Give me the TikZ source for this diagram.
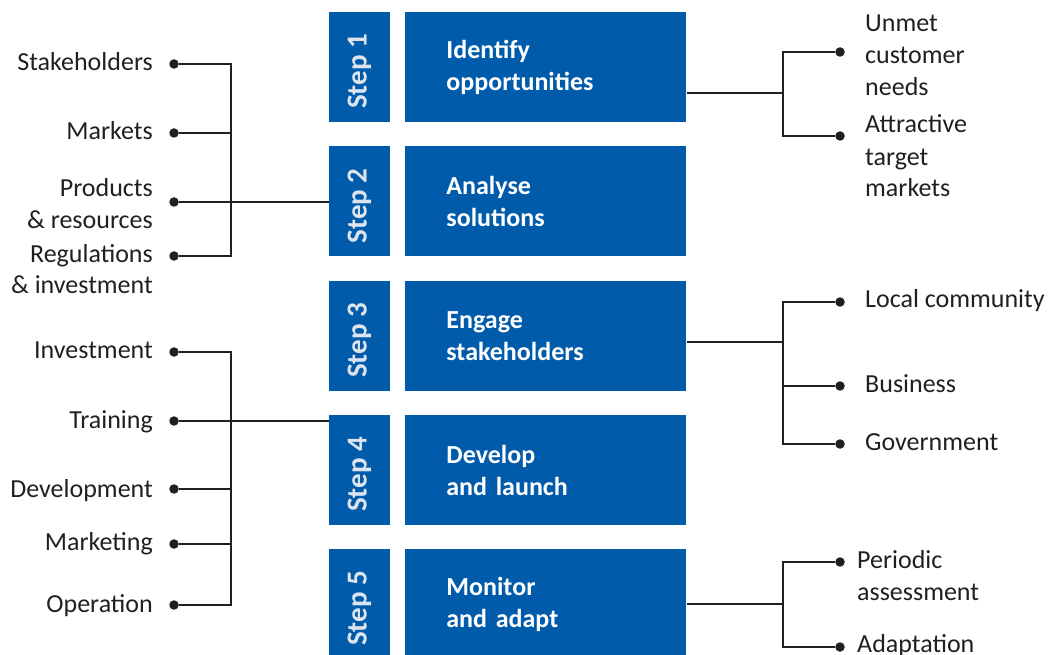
\documentclass[tikz,border=0pt]{standalone}
\usepackage{fontspec}
\setmainfont{Carlito}
\usetikzlibrary{positioning}

\definecolor{stepblue}{RGB}{0,91,170}
\definecolor{steptext}{RGB}{222,228,238}
\definecolor{ink}{RGB}{35,31,32}

\tikzset{
  stepbox/.style={fill=stepblue,minimum width=61pt,minimum height=110pt,
    inner sep=0pt,text=steptext,font=\fontsize{29}{34}\selectfont\bfseries},
  mainbox/.style={fill=stepblue,minimum height=110pt,text width=199pt,
    inner xsep=41pt,inner ysep=0pt,align=left,text=white,
    font=\fontsize{26}{32}\selectfont\bfseries},
  bullet/.style={circle,fill=ink,inner sep=0pt,minimum size=9.5pt},
  % labels sit on the baseline of their last line
  llab/.style={anchor=base east,align=right,inner sep=0pt,text=ink,
    font=\fontsize{26}{32}\selectfont},
  rlab/.style={anchor=base west,align=left,inner sep=0pt,text=ink,
    font=\fontsize{26}{32}\selectfont},
  link/.style={draw=ink,line width=1.4pt}
}

\begin{document}
\begin{tikzpicture}[x=1pt,y=-1pt]
\useasboundingbox (0,0) rectangle (1058,655);

\foreach \i/\y/\txt in {1/67/{Identify\\opportunities},
                        2/201.5/{Analyse\\solutions},
                        3/336/{Engage\\stakeholders},
                        4/470/{Develop\\and launch},
                        5/604/{Monitor\\and adapt}}{
  \node[stepbox] (step\i) at (359.5,\y) {\rotatebox{90}{Step \i\kern9pt}};
  \node[mainbox,right=15pt of step\i] (box\i) {\txt};
}

% inputs to step 2
\node[bullet] (stk) at (174,64) {};
\node[bullet] (mkt) at (174,133) {};
\node[bullet] (prd) at (174,202) {};
\node[bullet] (reg) at (174,256) {};
\coordinate (lj1) at (231,202);
\draw[link] (stk) -| (lj1) |- (reg);
\draw[link] (mkt) -- (mkt -| lj1);
\draw[link] (prd) -- (step2.west |- prd);
\node[llab] (tstk) at (153,71) {Stakeholders};
\node[llab] (tmkt) at (153,140) {Markets};
\node[llab] (tprd) at (153,229) {Products\\\& resources};
\node[llab] (treg) at (153,294) {Regulations\\\& investment};

% inputs to step 4
\node[bullet] (inv) at (174,352) {};
\node[bullet] (trn) at (174,421) {};
\node[bullet] (dev) at (174,489) {};
\node[bullet] (mkg) at (174,544) {};
\node[bullet] (opr) at (174,605) {};
\coordinate (lj2) at (231,421);
\draw[link] (inv) -| (lj2) |- (opr);
\draw[link] (dev) -- (dev -| lj2);
\draw[link] (mkg) -- (mkg -| lj2);
\draw[link] (trn) -- (step4.west |- trn);
\node[llab] (tinv) at (153,358) {Investment};
\node[llab] (ttrn) at (153,428) {Training};
\node[llab] (tdev) at (153,497) {Development};
\node[llab] (tmkg) at (153,550) {Marketing};
\node[llab] (topr) at (153,612) {Operation};

% outputs of step 1
\coordinate (rj1) at (783,93);
\node[bullet] (unm) at (840,52) {};
\node[bullet] (att) at (840,136) {};
\draw[link] (box1.east |- rj1) -- (rj1);
\draw[link] (unm) -| (rj1) |- (att);
\node[rlab] (tunm) at (865,96) {Unmet\\customer\\needs};
\node[rlab] (tatt) at (865,197) {Attractive\\target\\markets};

% outputs of step 3
\coordinate (rj2) at (783,342);
\node[bullet] (loc) at (840,302) {};
\node[bullet] (bus) at (840,386) {};
\node[bullet] (gov) at (840,444) {};
\draw[link] (box3.east |- rj2) -- (rj2);
\draw[link] (loc) -| (rj2) |- (gov);
\draw[link] (bus) -- (bus -| rj2);
\node[rlab] (tloc) at (865,308) {Local community};
\node[rlab] (tbus) at (865,392) {Business};
\node[rlab] (tgov) at (865,450) {Government};

% outputs of step 5
\coordinate (rj3) at (783,604);
\node[bullet] (per) at (840,562) {};
\node[bullet] (ada) at (840,647) {};
\draw[link] (box5.east |- rj3) -- (rj3);
\draw[link] (per) -| (rj3) |- (ada);
\node[rlab] (tper) at (857,600) {Periodic\\assessment};
\node[rlab] (tada) at (857,652) {Adaptation};
\end{tikzpicture}
\end{document}
